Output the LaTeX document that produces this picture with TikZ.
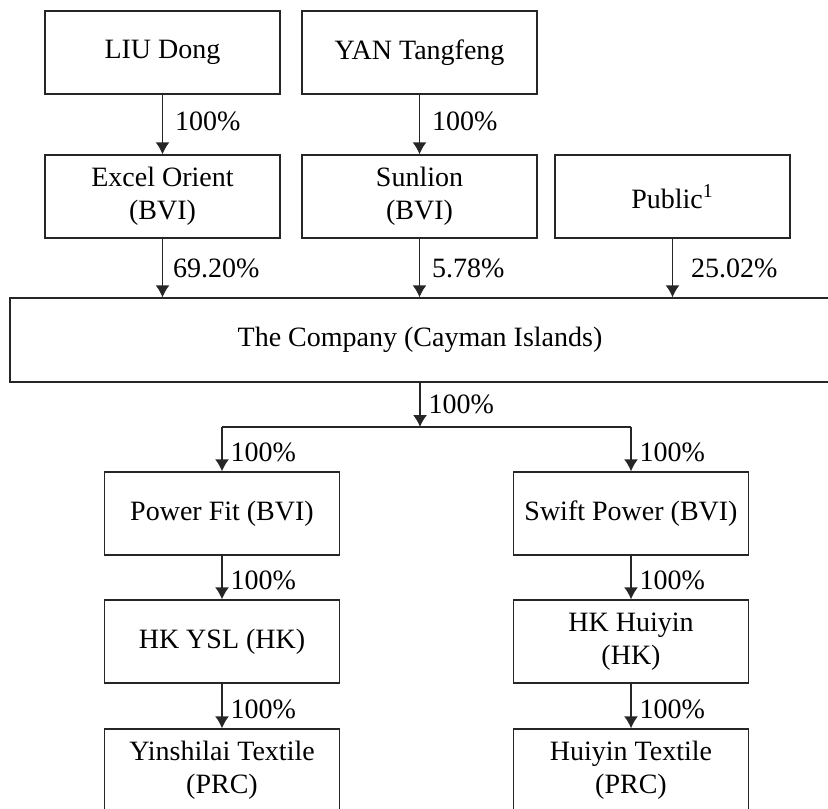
\documentclass[tikz,border=0pt]{standalone}
\usepackage{fontspec}
\setmainfont{Liberation Serif}
\usetikzlibrary{arrows.meta}

\begin{document}
\begin{tikzpicture}[x = 0.5pt, y = -0.5pt,
  font = \fontsize{14}{16.5}\selectfont,
  entity/.style = {draw = black!85, line width = 0.7pt, minimum width = 117.5pt,
                   minimum height = 41.5pt, align = center, inner sep = 0pt},
  own/.style = {-{Latex[length=6pt, width=7pt]}, line width = 0.7pt, black!85},
  pct/.style = {right, midway, inner sep = 1pt, text = black}]
  \clip (0, 0) rectangle (828, 808);
  % shareholders
  \node[entity] at (162.5, 52.5) (liu) {LIU Dong};
  \node[entity] at (419.5, 52.5) (yan) {YAN Tangfeng};
  \node[entity] at (162.5, 196.5) (excel) {Excel Orient\\(BVI)};
  \node[entity] at (419.5, 196.5) (sunlion) {Sunlion\\(BVI)};
  \node[entity] at (672.5, 196.5) (public) {Public\textsuperscript{1}};
  \node[entity, minimum width = 410pt, minimum height = 42pt] at (420, 340) (company) {The Company (Cayman Islands)};
  % subsidiaries
  \node[entity] at (222, 513.5) (powerfit) {Power Fit (BVI)};
  \node[entity] at (631, 513.5) (swift) {Swift Power (BVI)};
  \node[entity] at (222, 641.5) (hkysl) {HK YSL (HK)};
  \node[entity] at (631, 641.5) (hkhuiyin) {HK Huiyin\\(HK)};
  \node[entity] at (222, 770.5) (yinshilai) {Yinshilai Textile\\(PRC)};
  \node[entity] at (631, 770.5) (huiyin) {Huiyin Textile\\(PRC)};
  \coordinate (split) at (420, 427);
  \coordinate (splitL) at (222, 427);
  \coordinate (splitR) at (631, 427);

  \draw[own] (liu) -- (excel) node[pct, xshift = 5pt, yshift = 1.5pt] {100\%};
  \draw[own] (yan) -- (sunlion) node[pct, xshift = 5pt, yshift = 1.5pt] {100\%};
  \draw[own] (excel) -- (excel |- company.north) node[pct, xshift = 4pt] {69.20\%};
  \draw[own] (sunlion) -- (sunlion |- company.north) node[pct, xshift = 5pt] {5.78\%};
  \draw[own] (public) -- (public |- company.north) node[pct, xshift = 8pt] {25.02\%};
  \draw[own] (company) -- (split) node[pct, xshift = 3pt] {100\%};
  \draw[line width = 0.7pt, black!85] (splitL) -- (splitR);
  \draw[own] (splitL) -- (powerfit) node[pct, xshift = 3pt, yshift = -1.5pt] {100\%};
  \draw[own] (splitR) -- (swift) node[pct, xshift = 3pt, yshift = -1.5pt] {100\%};
  \draw[own] (powerfit) -- (hkysl) node[pct, xshift = 3pt, yshift = -1.5pt] {100\%};
  \draw[own] (swift) -- (hkhuiyin) node[pct, xshift = 3pt, yshift = -1.5pt] {100\%};
  \draw[own] (hkysl) -- (yinshilai) node[pct, xshift = 3pt, yshift = -1.5pt] {100\%};
  \draw[own] (hkhuiyin) -- (huiyin) node[pct, xshift = 3pt, yshift = -1.5pt] {100\%};
\end{tikzpicture}
\end{document}
